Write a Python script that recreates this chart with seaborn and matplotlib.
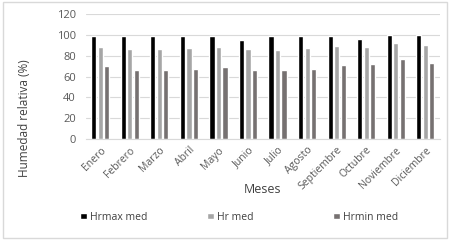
import matplotlib
matplotlib.use("Agg")
import matplotlib.pyplot as plt
import seaborn as sns
import pandas as pd
from matplotlib.patches import Rectangle

meses = ["Enero", "Febrero", "Marzo", "Abril", "Mayo", "Junio", "Julio",
         "Agosto", "Septiembre", "Octubre", "Noviembre", "Diciembre"]
hrmax = [99, 99, 99, 99, 99, 95, 99, 99, 99, 96, 100, 100]
hrmed = [88, 86, 86, 87, 88, 86, 85, 87, 89, 88, 92, 90]
hrmin = [70, 66, 66, 67, 69, 66, 66, 67, 71, 72, 77, 73]
series = ["Hrmax med", "Hr med", "Hrmin med"]
colors = ["#000000", "#a6a6a6", "#767171"]

df = pd.DataFrame({
    "Mes": meses * 3,
    "Serie": [series[0]] * 12 + [series[1]] * 12 + [series[2]] * 12,
    "Valor": hrmax + hrmed + hrmin,
})

sns.set_style("white")
plt.rcParams["font.family"] = ["Open Sans", "DejaVu Sans"]

fig = plt.figure(figsize=(4.5, 2.4), dpi=100)
ax = fig.add_axes([0.19, 0.42, 0.788, 0.522])

sns.barplot(data=df, x="Mes", y="Valor", hue="Serie", order=meses,
            hue_order=series, palette=colors, width=0.66, gap=0.2,
            saturation=1, ax=ax, legend=True)

ax.set_ylim(0, 120)
ax.set_yticks(range(0, 121, 20))
ax.yaxis.grid(True, color="#d9d9d9", linewidth=0.8)
ax.set_axisbelow(True)
for s in ["top", "right", "left"]:
    ax.spines[s].set_visible(False)
ax.spines["bottom"].set_color("#d9d9d9")
ax.tick_params(axis="y", length=0, labelsize=8, colors="#595959", pad=7)
ax.tick_params(axis="x", length=0, labelsize=7.5, colors="#595959", pad=4)
plt.setp(ax.get_xticklabels(), rotation=45, ha="right", rotation_mode="anchor")
ax.set_xlabel("Meses", fontsize=9, color="#404040")
ax.xaxis.set_label_coords(0.5, -0.35)
ax.set_ylabel("Humedad relativa (%)", fontsize=8.5, color="#404040")
ax.yaxis.set_label_coords(-0.155, 0.17)
ax.set_xlim(-0.5, 11.5)

handles, labels = ax.get_legend_handles_labels()
ax.get_legend().remove()
for h, l, xpos in zip(handles, labels, [0.158, 0.44, 0.72]):
    fig.legend([h], [l], loc="center left", bbox_to_anchor=(xpos, 0.095),
               frameon=False, fontsize=7.5, handlelength=0.6, handleheight=0.6,
               handletextpad=0.3, labelcolor="#404040")

fig.patches.append(Rectangle((0.006, 0.01), 0.988, 0.98, transform=fig.transFigure,
                             fill=False, edgecolor="#d9d9d9", linewidth=1))

fig.savefig("out.png", dpi=100)
